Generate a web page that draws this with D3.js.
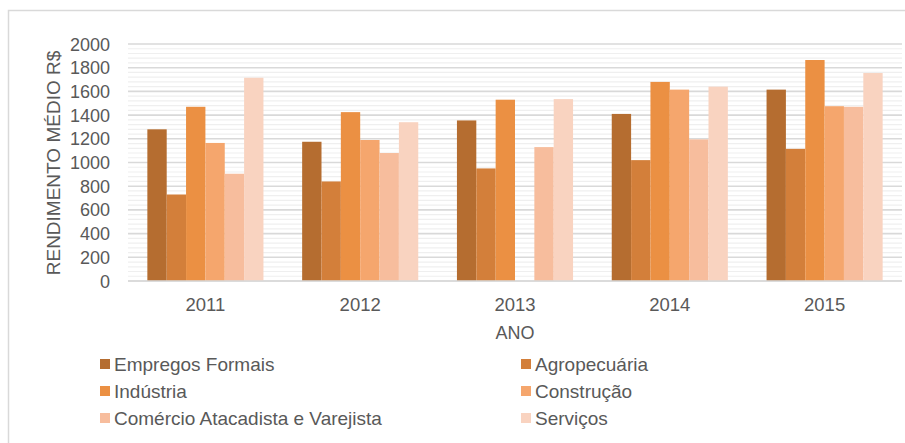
<!DOCTYPE html>
<html>
<head>
<meta charset="utf-8">
<script src="https://cdn.jsdelivr.net/npm/d3@7"></script>
<style>
  body { margin: 0; background: #fff; }
  text { font-family: "Liberation Sans", Arial, sans-serif; fill: #595959; }
</style>
</head>
<body>
<svg id="chart" width="905" height="443"></svg>
<script>
// data
var years = ["2011", "2012", "2013", "2014", "2015"];
var seriesNames = ["Empregos Formais", "Agropecuária", "Indústria", "Construção", "Comércio Atacadista e Varejista", "Serviços"];
var seriesColors = ["#b56d30", "#d37f3a", "#eb9043", "#f5a66d", "#f7bd9d", "#f9d3c0"];
var empregosFormais = [1280, 1175, 1355, 1410, 1615];
var agropecuaria = [730, 840, 950, 1020, 1115];
var industria = [1470, 1425, 1530, 1680, 1865];
var construcao = [1165, 1190, 0, 1615, 1475];
var comercio = [905, 1080, 1130, 1195, 1470];
var servicos = [1715, 1340, 1535, 1640, 1755];
var yTicks = [0, 200, 400, 600, 800, 1000, 1200, 1400, 1600, 1800, 2000];

var allSeries = [empregosFormais, agropecuaria, industria, construcao, comercio, servicos];

var svg = d3.select("#chart");

// outer frame (cropped at right/bottom)
svg.append("rect").attr("x", 8.5).attr("y", 10.5).attr("width", 920).attr("height", 460)
    .attr("fill", "none").attr("stroke", "#d9d9d9").attr("stroke-width", 1.5);

var plotLeft = 128, plotRight = 902, plotTop = 44, plotBottom = 281;

var x = d3.scaleBand().domain(years).range([plotLeft, plotRight]).paddingInner(0.25).paddingOuter(0.125);
var xInner = d3.scaleBand().domain(d3.range(seriesNames.length)).range([0, x.bandwidth()]);
var y = d3.scaleLinear().domain([0, 2000]).range([plotBottom, plotTop]);

// minor gridlines
var minor = d3.range(40, 2000, 40).filter(function(v) { return v % 200 !== 0; });
svg.append("g").selectAll("line").data(minor).join("line")
    .attr("x1", plotLeft).attr("x2", plotRight)
    .attr("y1", function(d) { return y(d); }).attr("y2", function(d) { return y(d); })
    .attr("stroke", "#efefef").attr("stroke-width", 1.2);

// major gridlines
svg.append("g").selectAll("line").data(yTicks).join("line")
    .attr("x1", plotLeft).attr("x2", plotRight)
    .attr("y1", function(d) { return y(d); }).attr("y2", function(d) { return y(d); })
    .attr("stroke", "#d9d9d9").attr("stroke-width", 1.6);

// bars
var groups = svg.append("g").selectAll("g").data(years).join("g")
    .attr("transform", function(d) { return "translate(" + x(d) + ",0)"; });
groups.selectAll("rect").data(function(d, i) {
        return allSeries.map(function(s, k) { return { k: k, v: s[i] }; });
    }).join("rect")
    .attr("x", function(d) { return xInner(d.k); })
    .attr("width", xInner.bandwidth())
    .attr("y", function(d) { return y(d.v); })
    .attr("height", function(d) { return y(0) - y(d.v); })
    .attr("fill", function(d) { return seriesColors[d.k]; });

// x axis line
svg.append("line").attr("x1", plotLeft).attr("x2", plotRight).attr("y1", plotBottom).attr("y2", plotBottom)
    .attr("stroke", "#d9d9d9").attr("stroke-width", 1.6);

// y tick labels
svg.append("g").selectAll("text").data(yTicks).join("text")
    .attr("x", 110).attr("y", function(d) { return y(d) + 6.5; })
    .attr("text-anchor", "end").style("font-size", "18px")
    .text(function(d) { return d; });

// x tick labels
svg.append("g").selectAll("text").data(years).join("text")
    .attr("x", function(d) { return x(d) + x.bandwidth() / 2; }).attr("y", 311)
    .attr("text-anchor", "middle").style("font-size", "18.5px")
    .text(function(d) { return d; });

// axis titles
svg.append("text").attr("x", (plotLeft + plotRight) / 2).attr("y", 339)
    .attr("text-anchor", "middle").style("font-size", "18px").text("ANO");
svg.append("text").attr("transform", "translate(60,163) rotate(-90)")
    .attr("text-anchor", "middle").style("font-size", "19px").text("RENDIMENTO MÉDIO R$");

// legend, two columns
var legend = svg.append("g").selectAll("g").data(seriesNames).join("g")
    .attr("transform", function(d, i) {
        return "translate(" + (i % 2 === 0 ? 100 : 521) + "," + (364 + Math.floor(i / 2) * 27) + ")";
    });
legend.append("rect").attr("x", 0).attr("y", -5).attr("width", 10).attr("height", 10)
    .attr("fill", function(d, i) { return seriesColors[i]; });
legend.append("text").attr("x", 14).attr("y", 6.5).style("font-size", "19px")
    .text(function(d) { return d; });
</script>
</body>
</html>
